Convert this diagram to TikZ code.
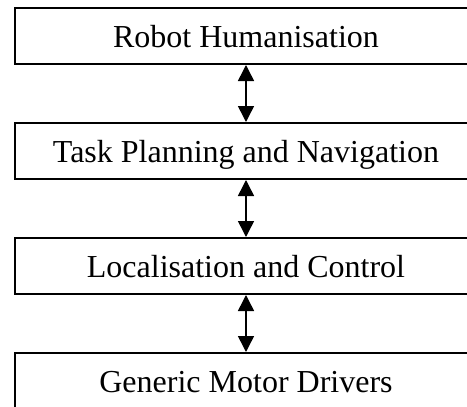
\documentclass[tikz,border=0pt]{standalone}
\usepackage{fontspec}
\setmainfont{Liberation Serif}
\usetikzlibrary{arrows.meta,positioning}
\tikzset{
  layerbox/.style={
    rectangle, draw=black, line width=2pt, fill=white,
    minimum width=462pt, minimum height=56pt, inner sep=0pt,
    text height=22pt, text depth=0pt,
    font=\fontsize{32}{38}\selectfont
  },
  layerarrow/.style={{Triangle[length=16pt,width=16pt]}-{Triangle[length=16pt,width=16pt]}, line width=1.5pt},
}
\begin{document}
\begin{tikzpicture}[node distance=57pt]
  \useasboundingbox (0,0) rectangle (467pt,-407pt);
  \clip (0,0) rectangle (467pt,-407pt);
  \node[layerbox] (human) at (246pt,-36pt) {Robot Humanisation};
  \node[layerbox, below=of human] (plan) {Task Planning and Navigation};
  \node[layerbox, below=of plan] (loc) {Localisation and Control};
  \node[layerbox, below=of loc] (motor) {Generic Motor Drivers};
  % links between the layers
  \draw[layerarrow] (human) -- (plan);
  \draw[layerarrow] (plan) -- (loc);
  \draw[layerarrow] (loc) -- (motor);
\end{tikzpicture}
\end{document}
